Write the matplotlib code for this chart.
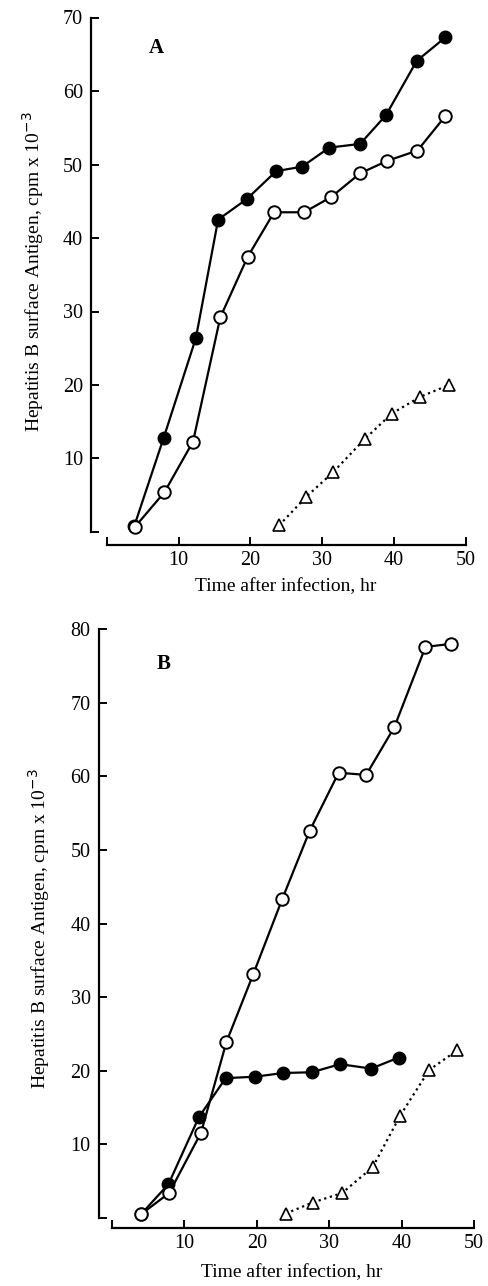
import numpy as np
import matplotlib
matplotlib.use("Agg")
import matplotlib.pyplot as plt

plt.rcParams['font.family'] = ['Liberation Serif', 'DejaVu Serif']

# panel A
a_filled_x = [3.8, 7.9, 12.4, 15.5, 19.5, 23.6, 27.2, 31.0, 35.3, 38.9, 43.2, 47.2]
a_filled_y = [0.8, 12.8, 26.4, 42.5, 45.3, 49.1, 49.7, 52.3, 52.8, 56.7, 64.1, 67.3]
a_open_x = [3.9, 8.0, 12.0, 15.8, 19.6, 23.3, 27.5, 31.3, 35.3, 39.1, 43.3, 47.2]
a_open_y = [0.7, 5.4, 12.3, 29.2, 37.4, 43.5, 43.5, 45.6, 48.8, 50.5, 51.9, 56.6]
a_tri_x = [24.0, 27.8, 31.5, 36.0, 39.7, 43.7, 47.7]
a_tri_y = [0.9, 4.8, 8.1, 12.7, 16.1, 18.4, 20.0]

# panel B
b_filled_x = [4.0, 7.8, 12.0, 15.7, 19.8, 23.6, 27.6, 31.5, 35.8, 39.6]
b_filled_y = [0.5, 4.6, 13.7, 19.0, 19.2, 19.7, 19.8, 20.9, 20.3, 21.8]
b_open_x = [4.0, 7.9, 12.3, 15.8, 19.5, 23.5, 27.3, 31.3, 35.1, 39.0, 43.3, 46.8]
b_open_y = [0.5, 3.4, 11.6, 23.9, 33.1, 43.3, 52.6, 60.5, 60.2, 66.7, 77.6, 78.0]
b_tri_x = [24.0, 27.7, 31.8, 36.0, 39.8, 43.8, 47.7]
b_tri_y = [0.6, 2.1, 3.4, 6.9, 13.9, 20.1, 22.8]

a_yticks = [0, 10, 20, 30, 40, 50, 60, 70]
b_yticks = [0, 10, 20, 30, 40, 50, 60, 70, 80]
xticks = [0, 10, 20, 30, 40, 50]

W, H = 488, 1286
fig = plt.figure(figsize=(W / 100, H / 100), dpi=100)


def make_axes(px0, sx, py0, sy, xlim, ylim):
    # axes rect from pixel position of data origin and pixel scale
    left = px0 + xlim[0] * sx
    right = px0 + xlim[1] * sx
    bottom = py0 - ylim[0] * sy
    top = py0 - ylim[1] * sy
    ax = fig.add_axes([left / W, 1 - bottom / H, (right - left) / W, (bottom - top) / H])
    ax.set_xlim(*xlim)
    ax.set_ylim(*ylim)
    return ax


def draw_panel(ax, fx, fy, ox, oy, tx, ty, yticks, letter):
    ax.plot(fx, fy, color='black', lw=1.6, marker='o', ms=9,
            mfc='black', mec='black', zorder=3)
    ax.plot(ox, oy, color='black', lw=1.6, marker='o', ms=9,
            mfc='white', mec='black', mew=1.4, zorder=4)
    ax.plot(tx, ty, color='black', lw=1.6, ls=':', marker='^', ms=9,
            mfc='white', mec='black', mew=1.2, zorder=3)

    for s in ['top', 'right']:
        ax.spines[s].set_visible(False)
    ax.spines['left'].set_linewidth(1.6)
    ax.spines['bottom'].set_linewidth(1.6)
    ax.spines['left'].set_bounds(0, yticks[-1])
    ax.spines['bottom'].set_bounds(0, 50)

    ax.set_xticks(xticks)
    ax.set_xticklabels([''] + [str(v) for v in xticks[1:]])
    ax.set_yticks(yticks)
    ax.set_yticklabels([''] + [str(v) for v in yticks[1:]])
    ax.tick_params(axis='both', direction='in', length=6, width=1.4,
                   labelsize=14.5, colors='black')
    ax.tick_params(axis='y', pad=6)
    ax.tick_params(axis='x', pad=4)

    ax.text(0.15, 0.93, letter, transform=ax.transAxes, fontsize=15,
            fontweight='bold', ha='left', va='center')
    ax.patch.set_visible(False)


ylabel = r'Hepatitis B surface Antigen, cpm x 10$^{-3}$'
xlabel = 'Time after infection, hr'

axA = make_axes(107, 7.17, 532, 7.35, (-2.2, 51), (-1.8, 71))
draw_panel(axA, a_filled_x, a_filled_y, a_open_x, a_open_y, a_tri_x, a_tri_y,
           a_yticks, 'A')
fig.text(286 / W, 1 - 587 / H, xlabel, ha='center', va='center', fontsize=14)
fig.text(33 / W, 1 - 272 / H, ylabel, ha='center', va='center', rotation=90,
         fontsize=14)

axB = make_axes(112, 7.24, 1218, 7.36, (-1.8, 51), (-1.4, 81))
draw_panel(axB, b_filled_x, b_filled_y, b_open_x, b_open_y, b_tri_x, b_tri_y,
           b_yticks, 'B')
fig.text(292 / W, 1 - 1273 / H, xlabel, ha='center', va='center', fontsize=14)
fig.text(39 / W, 1 - 929 / H, ylabel, ha='center', va='center', rotation=90,
         fontsize=14)

fig.savefig('out.png', dpi=100)
